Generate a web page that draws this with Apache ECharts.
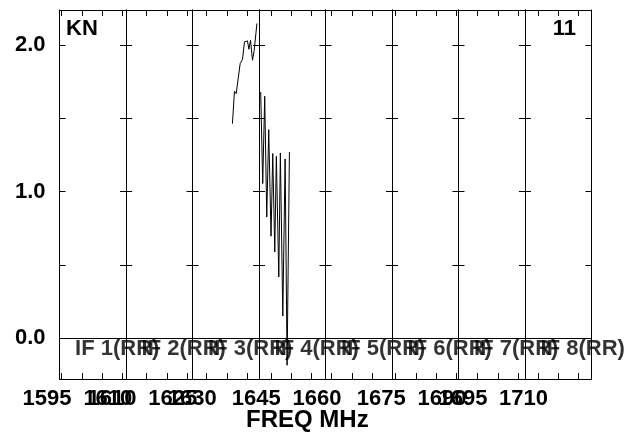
<!DOCTYPE html>
<html>
<head>
<meta charset="utf-8">
<title>KN 11</title>
<script src="https://cdn.jsdelivr.net/npm/echarts@6/dist/echarts.min.js"></script>
</head>
<body style="margin:0">
<div id="main" style="width:632px;height:432px;"></div>
<script type="text/javascript">
// plot header
var sourceName = 'KN';
var plotId = '11';
var xTitle = 'FREQ MHz';

// one panel per IF
var ifNames = ['IF 1(RR)', 'IF 2(RR)', 'IF 3(RR)', 'IF 4(RR)', 'IF 5(RR)', 'IF 6(RR)', 'IF 7(RR)', 'IF 8(RR)'];
var ifStartMHz = [1594.5, 1609.9, 1626.5, 1642.1, 1658.5, 1674.1, 1690.3, 1706.8];
var ifWidthMHz = 16.4;

// axis ticks
var ampTicks = [0, 0.5, 1, 1.5, 2];
var ampLabels = [0, 1, 2];
var freqTickStep = 5;
var freqLabelEvery = 3;   // every third tick of a panel gets a number, from its first tick

// spectra (only IF 3 and IF 4 have data)
var if3Freq = [1636.35, 1636.85, 1637.27, 1638.26, 1638.58, 1638.83, 1639.32, 1639.74, 1640.06, 1640.41, 1640.81, 1641.30, 1641.72, 1642.39];
var if3Amp  = [1.464, 1.685, 1.669, 1.874, 1.863, 1.902, 2.022, 2.011, 2.029, 1.972, 2.033, 1.897, 1.965, 2.148];
var if4Freq = [1642.52, 1643.02, 1643.51, 1644.01, 1644.50, 1645.07, 1645.49, 1645.99, 1646.38, 1646.98, 1647.37, 1647.97, 1648.54, 1649.03, 1649.60];
var if4Amp  = [1.680, 1.055, 1.651, 0.826, 1.423, 0.695, 1.260, 0.587, 1.241, 0.417, 1.264, 0.150, 1.223, -0.186, 1.270];

var spectra = {2: [if3Freq, if3Amp], 3: [if4Freq, if4Amp]};

var chart = echarts.init(document.getElementById('main'));

var font = 'Liberation Sans';
var left0 = 59.5, panelW = 66.5, top0 = 10, bottom0 = 53;
var yMin = -0.28, yMax = 2.24;

function multiples(lo, hi, step) {
    var out = [];
    for (var v = Math.ceil(lo / step) * step; v <= hi + 1e-9; v += step) out.push(v);
    return out;
}

var grids = [], xAxes = [], yAxes = [], series = [];

ifNames.forEach(function (name, i) {
    var lo = ifStartMHz[i], hi = lo + ifWidthMHz;
    var ticks = multiples(lo, hi, freqTickStep);
    var labels = ticks.filter(function (v, k) { return k % freqLabelEvery === 0; });
    grids.push({left: left0 + panelW * i, width: panelW, top: top0, bottom: bottom0});

    var xBase = {
        type: 'value', gridIndex: i, min: lo, max: hi,
        splitLine: {show: false},
        axisLine: {show: true, onZero: false, lineStyle: {color: '#000', width: 1}},
        axisTick: {show: true, inside: true, length: 6, customValues: ticks, lineStyle: {color: '#000'}}
    };
    xAxes.push(Object.assign({}, xBase, {
        position: 'bottom',
        axisLabel: {
            show: true, customValues: labels, color: '#000', fontFamily: font, fontSize: 22,
            fontWeight: 'bold', margin: 9, align: 'center', padding: [0, 29, 0, 0],
            formatter: function (v) { return Math.round(v).toString(); }
        }
    }));
    xAxes.push(Object.assign({}, xBase, {position: 'top', axisLabel: {show: false}}));

    var yBase = {
        type: 'value', gridIndex: i, min: yMin, max: yMax,
        splitLine: {show: false},
        axisLine: {show: true, lineStyle: {color: '#000', width: 1}},
        axisTick: {show: true, inside: true, length: 6, customValues: ampTicks, lineStyle: {color: '#000'}}
    };
    yAxes.push(Object.assign({}, yBase, {
        position: 'left',
        axisLabel: {
            show: i === 0, customValues: ampLabels, color: '#000', fontFamily: font, fontSize: 22,
            fontWeight: 'bold', margin: 14,
            formatter: function (v) { return v.toFixed(1); }
        }
    }));
    yAxes.push(Object.assign({}, yBase, {position: 'right', axisLabel: {show: false}}));

    // IF name along the zero line, plus the zero line itself
    series.push({
        type: 'scatter', xAxisIndex: 2 * i, yAxisIndex: 2 * i,
        symbolSize: 0, silent: true,
        data: [[lo + 3.84, -0.077]],
        label: {
            show: true, position: 'right', distance: 0, formatter: name,
            color: '#000', fontFamily: font, fontSize: 22, fontWeight: 'bold'
        },
        markLine: {
            silent: true, symbol: ['none', 'none'], label: {show: false},
            lineStyle: {color: '#000', width: 1, type: 'solid'},
            data: [{yAxis: 0}]
        }
    });

    if (spectra[i]) {
        var f = spectra[i][0], a = spectra[i][1];
        series.push({
            type: 'line', xAxisIndex: 2 * i, yAxisIndex: 2 * i,
            showSymbol: false, silent: true,
            lineStyle: {color: '#000', width: 1},
            data: f.map(function (v, k) { return [v, a[k]]; })
        });
    }
});

var option = {
    animation: false,
    backgroundColor: '#fff',
    grid: grids,
    xAxis: xAxes,
    yAxis: yAxes,
    series: series,
    graphic: [
        {type: 'text', left: 66, top: 18, style: {text: sourceName, font: 'bold 22px "Liberation Sans"', fill: '#000'}},
        {type: 'text', right: 56, top: 18, style: {text: plotId, font: 'bold 22px "Liberation Sans"', fill: '#000'}},
        {type: 'text', left: 246, top: 408, style: {text: xTitle, font: 'bold 24px "Liberation Sans"', fill: '#000'}}
    ]
};

chart.setOption(option);
</script>
</body>
</html>
